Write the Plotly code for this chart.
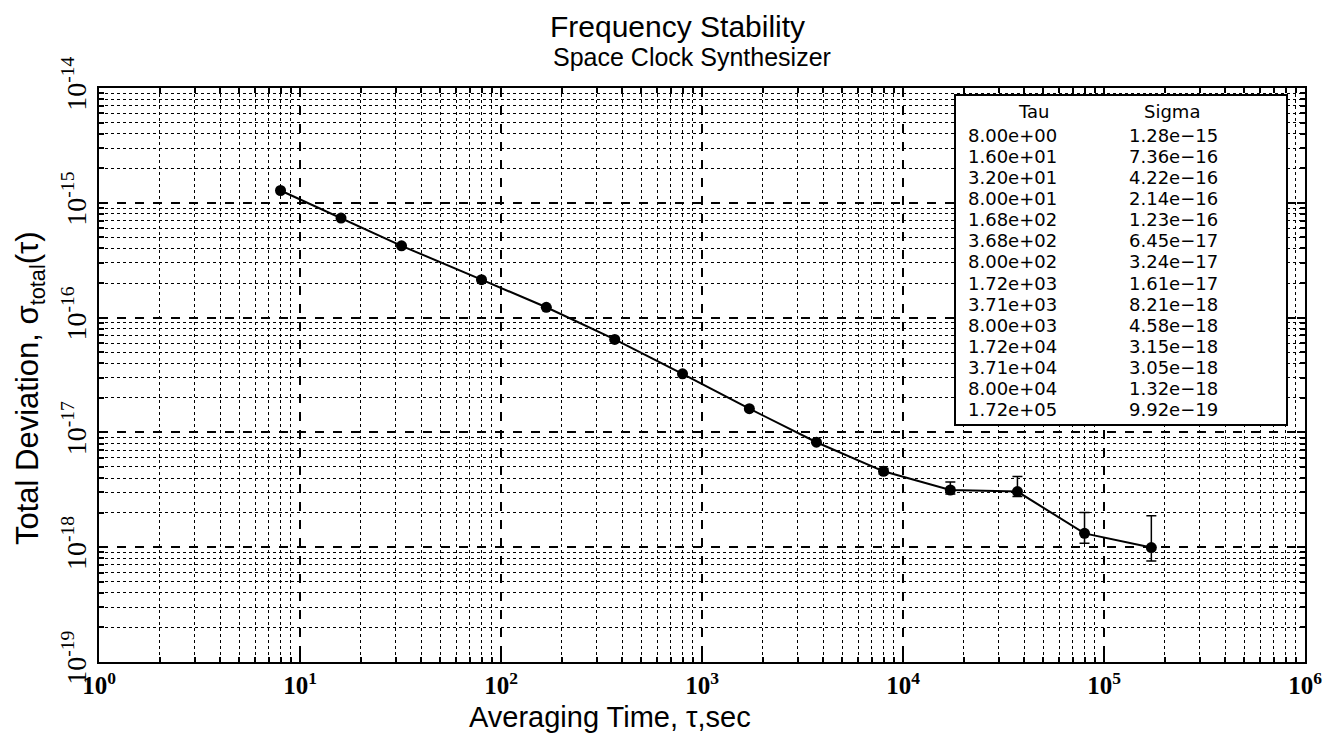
import plotly.graph_objects as go

# datos de la tabla (Tau / Sigma)
tau = [8, 16, 32, 80, 168, 368, 800, 1720, 3710, 8000, 17200, 37100, 80000, 172000]
sigma = [1.28e-15, 7.36e-16, 4.22e-16, 2.14e-16, 1.23e-16, 6.45e-17, 3.24e-17,
         1.61e-17, 8.21e-18, 4.58e-18, 3.15e-18, 3.05e-18, 1.32e-18, 9.92e-19]
# limites de las barras de error (None = sin barra visible)
sigma_hi = [None, None, None, None, None, None, None, None, None,
            4.85e-18, 3.70e-18, 4.12e-18, 2.01e-18, 1.88e-18]
sigma_lo = [None, None, None, None, None, None, None, None, None,
            4.35e-18, 2.91e-18, 2.76e-18, 1.08e-18, 7.6e-19]

tau_text = ['8.00e+00', '1.60e+01', '3.20e+01', '8.00e+01', '1.68e+02', '3.68e+02', '8.00e+02',
            '1.72e+03', '3.71e+03', '8.00e+03', '1.72e+04', '3.71e+04', '8.00e+04', '1.72e+05']
sigma_text = ['1.28e−15', '7.36e−16', '4.22e−16', '2.14e−16', '1.23e−16', '6.45e−17', '3.24e−17',
              '1.61e−17', '8.21e−18', '4.58e−18', '3.15e−18', '3.05e−18', '1.32e−18', '9.92e−19']

x_ticks = [1, 10, 100, 1000, 1e4, 1e5, 1e6]
x_labels = ['10<sup>0</sup>', '10<sup>1</sup>', '10<sup>2</sup>', '10<sup>3</sup>',
            '10<sup>4</sup>', '10<sup>5</sup>', '10<sup>6</sup>']
y_ticks = [1e-19, 1e-18, 1e-17, 1e-16, 1e-15, 1e-14]
y_labels = ['10<sup>-19</sup>', '10<sup>-18</sup>', '10<sup>-17</sup>',
            '10<sup>-16</sup>', '10<sup>-15</sup>', '10<sup>-14</sup>']

# la pagina deja 8 px de margen (body), se compensa aqui
OFF = 8
W, H = 1331 - 2 * OFF, 742 - 2 * OFF
L, R, T, B = 99 - OFF, 1305 - OFF, 88 - OFF, 662 - OFF


def px_x(px):
    return (px - OFF - L) / (R - L)


def px_y(py):
    return (B - (py - OFF)) / (B - T)


err_plus = [None if h is None else h - s for h, s in zip(sigma_hi, sigma)]
err_minus = [None if l is None else s - l for l, s in zip(sigma_lo, sigma)]

fig = go.Figure(go.Scatter(
    x=tau, y=sigma, mode='lines+markers',
    line=dict(color='black', width=2),
    marker=dict(color='black', size=11),
    error_y=dict(type='data', symmetric=False, array=err_plus, arrayminus=err_minus,
                 color='black', thickness=1.5, width=5),
    showlegend=False,
))

minor_x = [k * 10 ** n for n in range(0, 6) for k in range(2, 10)]
minor_y = [k * 10.0 ** n for n in range(-19, -14) for k in range(2, 10)]

eje = dict(type='log', showline=True, linecolor='black', linewidth=2, mirror='allticks',
           ticks='inside', ticklen=8, tickcolor='black', tickwidth=2, automargin=False,
           showgrid=True, gridcolor='black', gridwidth=1.5, griddash='dash', zeroline=False)

fig.update_layout(
    width=W, height=H,
    margin=dict(l=L, r=W - R, t=T, b=H - B),
    plot_bgcolor='white', paper_bgcolor='white',
    xaxis=dict(eje, range=[0, 6], tickmode='array', tickvals=x_ticks, ticktext=x_labels,
               tickfont=dict(family='Liberation Serif', size=25, color='black', weight='bold'),
               ticklabelstandoff=0, ticklabeloverflow='allow',
               minor=dict(tickmode='array', tickvals=minor_x, ticks='inside', ticklen=5,
                          tickcolor='black', showgrid=True, gridcolor='black',
                          griddash='dot', gridwidth=1)),
    yaxis=dict(eje, range=[-19, -14], tickmode='array', tickvals=y_ticks, ticktext=y_labels,
               tickangle=-90, ticklabelstandoff=0, ticklabeloverflow='allow',
               tickfont=dict(family='Liberation Serif', size=28, color='black'),
               minor=dict(tickmode='array', tickvals=minor_y, ticks='inside', ticklen=5,
                          tickcolor='black', showgrid=True, gridcolor='black',
                          griddash='dot', gridwidth=1)),
)

anotaciones = [
    dict(text='Frequency Stability', x=px_x(677), y=px_y(26),
         font=dict(family='Liberation Sans', size=30, color='black')),
    dict(text='Space Clock Synthesizer', x=px_x(692), y=px_y(57),
         font=dict(family='Liberation Sans', size=25, color='black')),
    dict(text='Averaging Time, τ,sec', x=px_x(610), y=px_y(717),
         font=dict(family='Liberation Sans', size=29, color='black')),
    dict(text='Total Deviation, σ<sub>total</sub>(τ)', x=px_x(30), y=px_y(388), textangle=-90,
         font=dict(family='Liberation Sans', size=31, color='black')),
]

# cuadro con la tabla de valores
fig.add_shape(type='rect', xref='paper', yref='paper',
              x0=px_x(955), x1=px_x(1287), y0=px_y(95), y1=px_y(425),
              line=dict(color='black', width=2), fillcolor='white', layer='above')

fuente_tabla = dict(family='DejaVu Sans', size=18, color='black')
anotaciones.append(dict(text='Tau', x=px_x(1033), y=px_y(111), font=fuente_tabla))
anotaciones.append(dict(text='Sigma', x=px_x(1172), y=px_y(111), font=fuente_tabla))
for i, (t, s) in enumerate(zip(tau_text, sigma_text)):
    yy = px_y(135 + i * 21.15)
    anotaciones.append(dict(text=t, x=px_x(967), y=yy, xanchor='left', font=fuente_tabla, borderpad=0))
    anotaciones.append(dict(text=s, x=px_x(1128), y=yy, xanchor='left', font=fuente_tabla, borderpad=0))

for a in anotaciones:
    a.setdefault('xanchor', 'center')
    fig.add_annotation(xref='paper', yref='paper', yanchor='middle', showarrow=False, **a)

fig.write_html('out.html')
